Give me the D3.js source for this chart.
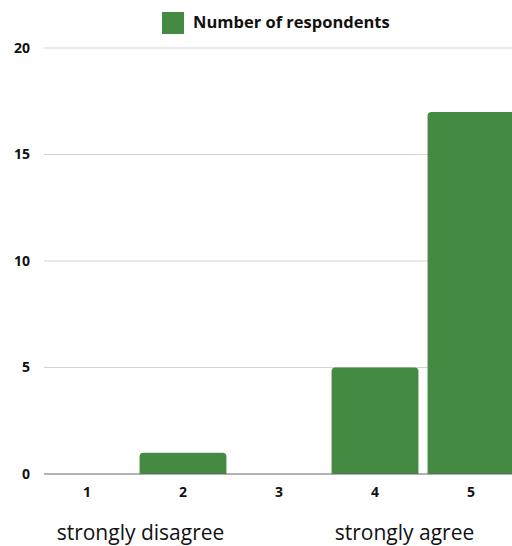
<!DOCTYPE html>
<html><head><meta charset="utf-8">
<script src="https://cdn.jsdelivr.net/npm/d3@7"></script>
<style>body{margin:0;background:#fff}svg{display:block;font-family:"Open Sans","Noto Sans",sans-serif}</style>
</head><body>
<svg id="c" width="512" height="546"></svg>
<script>
const categories = ["1","2","3","4","5"];
const values = [0, 1, 0, 5, 17];
const yTicks = [0, 5, 10, 15, 20];
const seriesName = "Number of respondents";
const scaleLabels = ["strongly disagree", "strongly agree"];

const svg = d3.select("#c");
const green = "#448a43";
const x = d3.scaleBand().domain(categories).range([39, 519]).paddingInner(0.095).paddingOuter(0.0475);
const y = d3.scaleLinear().domain([0, 20]).range([474, 48]);

// gridlines
svg.append("g").selectAll("line").data(yTicks.filter(d=>d>0)).join("line")
  .attr("x1", 44).attr("x2", 512).attr("y1", d=>y(d)).attr("y2", d=>y(d))
  .attr("stroke", "#d4d4d4").attr("stroke-width", 1);

// y labels
svg.append("g").selectAll("text").data(yTicks).join("text")
  .attr("x", 30).attr("y", d=>y(d)).attr("dy", "0.35em").attr("text-anchor", "end")
  .attr("font-size", 14).attr("font-weight", "bold").attr("fill", "#111").text(d=>d);

// bars with rounded tops
const r = 4;
svg.append("g").selectAll("path").data(categories.map((c,i)=>({c, v: values[i]})).filter(d=>d.v>0)).join("path")
  .attr("fill", green)
  .attr("d", d => {
    const x0 = x(d.c), x1 = x0 + x.bandwidth(), y0 = y(0), y1 = y(d.v);
    return `M${x0},${y0}V${y1+r}Q${x0},${y1} ${x0+r},${y1}H${x1-r}Q${x1},${y1} ${x1},${y1+r}V${y0}Z`;
  });

// zero line
svg.append("line").attr("x1", 44).attr("x2", 512).attr("y1", y(0)).attr("y2", y(0))
  .attr("stroke", "#666").attr("stroke-width", 1);

// x labels
svg.append("g").selectAll("text").data(categories).join("text")
  .attr("x", d=>x(d)+x.bandwidth()/2).attr("y", 497).attr("text-anchor", "middle")
  .attr("font-size", 14).attr("font-weight", "bold").attr("fill", "#111").text(d=>d);

// scale labels
const labelX = [140.5, 404.5];
svg.append("g").selectAll("text").data(scaleLabels).join("text")
  .attr("x", (d,i)=>labelX[i]).attr("y", 540).attr("text-anchor", "middle")
  .attr("font-size", 21).attr("fill", "#111").text(d=>d);

// legend
svg.append("rect").attr("x", 162).attr("y", 12).attr("width", 22).attr("height", 22).attr("fill", green);
svg.append("text").attr("x", 193).attr("y", 28).attr("font-size", 16.5).attr("font-weight", "bold")
  .attr("fill", "#111").text(seriesName);
</script>
</body></html>
